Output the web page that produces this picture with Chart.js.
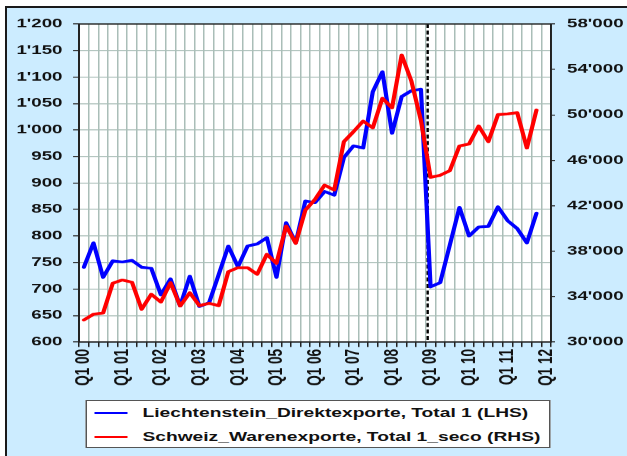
<!DOCTYPE html>
<html>
<head>
<meta charset="utf-8">
<script src="https://cdn.jsdelivr.net/npm/chart.js@4.4.1/dist/chart.umd.min.js"></script>
<style>
  html, body { margin:0; padding:0; width:627px; height:456px; overflow:hidden; background:#ffffff; }
  #frame { position:absolute; left:5px; top:6px; width:640px; height:470px; background:#CCECFF;
           border-top:2px solid #1a1a1a; border-left:2px solid #1a1a1a; }
  #stretch { position:absolute; left:0; top:0; width:418px; height:456px; transform:scaleX(1.5); transform-origin:0 0; }
  #chartBox { position:absolute; left:0; top:0; width:418px; height:456px; }
  #legend { position:absolute; left:56.7px; top:400px; width:308px; height:46px; background:#ffffff;
            border:1.3px solid #555; font:bold 12.8px "Liberation Sans", Arial, sans-serif; color:#111; }
  .row { position:absolute; left:0; width:100%; height:16px; line-height:16px; }
  .sample { position:absolute; left:5.3px; top:6.8px; width:22px; height:2.6px; }
  .label { position:absolute; left:37.3px; top:0; white-space:nowrap; }
</style>
</head>
<body>
<div id="frame"></div>
<div id="stretch">
  <div id="chartBox"><canvas id="c"></canvas></div>
  <div id="legend">
    <div class="row" style="top:4px"><span class="sample" style="background:#0000FF"></span><span class="label" id="lab0"></span></div>
    <div class="row" style="top:28px"><span class="sample" style="background:#FF0000"></span><span class="label" id="lab1"></span></div>
  </div>
</div>
<script>
// ---- data ----
const years = ['00','01','02','03','04','05','06','07','08','09','10','11','12'];
const quarters = ['Q1','Q2','Q3','Q4'];
const seriesNames = ['Liechtenstein_Direktexporte, Total 1 (LHS)', 'Schweiz_Warenexporte, Total 1_seco (RHS)'];

// Liechtenstein direct exports (left axis), Q1 00 .. Q4 11, Q1 12 empty
const liechtensteinExports = [
  741, 787, 722, 753, 751, 754, 741, 739,
  689, 719, 668, 724, 667, 674, 727, 781,
  742, 781, 785, 797, 722, 825, 787, 866,
  863, 884, 877, 948, 970, 966, 1072, 1110,
  994, 1063, 1074, 1077, 704, 712, 783, 854,
  800, 817, 818, 855, 829, 814, 787, 843,
  null
];
// Swiss goods exports (right axis)
const schweizExports = [
  31940, 32440, 32550, 35170, 35460, 35260, 32880, 34200,
  33520, 35220, 33170, 34340, 33200, 33400, 33200, 36190,
  36540, 36540, 35960, 37720, 36930, 40210, 38690, 41620,
  42550, 43820, 43380, 47640, 48520, 49450, 48860, 51460,
  50620, 55270, 53000, 49500, 44500, 44680, 45090, 47260,
  47430, 49020, 47640, 50020, 50080, 50190, 47080, 50430,
  null
];
const leftTicks = { min: 600, max: 1200, step: 50 };
const rightTicks = { min: 30000, max: 58000, step: 4000 };
const breakPosition = 35.7; // dashed marker, in category units (just before Q1 09)

// categories Q1 00 .. Q1 12
const categories = [];
years.forEach((y, yi) => {
  quarters.forEach((q, qi) => {
    if (yi === years.length - 1 && qi > 0) return;
    categories.push(q + ' ' + y);
  });
});

document.getElementById('lab0').textContent = seriesNames[0];
document.getElementById('lab1').textContent = seriesNames[1];

function fmtThousands(v) {
  const n = Math.round(v);
  if (n < 1000) return String(n);
  const th = Math.floor(n / 1000);
  const rest = String(n % 1000).padStart(3, '0');
  return th + "'" + rest;
}

const gridColor = '#AABEB8';
const axisColor = '#222222';
const tickFont = { family: '"Liberation Sans", Arial, sans-serif', size: 12.5, weight: 'bold' };
const xTickFont = { family: '"Liberation Sans", Arial, sans-serif', size: 13.5, weight: 'bold' };

const decor = {
  id: 'decor',
  beforeDraw(chart) {
    const { ctx, chartArea: a } = chart;
    ctx.save();
    ctx.fillStyle = '#ffffff';
    ctx.fillRect(a.left, a.top, a.right - a.left, a.bottom - a.top);
    ctx.restore();
  },
  beforeDatasetsDraw(chart) {
    const { ctx, chartArea: a } = chart;
    const xs = chart.scales.x;
    const i0 = Math.floor(breakPosition);
    const p0 = xs.getPixelForValue(i0);
    const p1 = xs.getPixelForValue(i0 + 1);
    const px = p0 + (breakPosition - i0) * (p1 - p0);
    ctx.save();
    ctx.beginPath();
    ctx.strokeStyle = '#ffffff';
    ctx.lineWidth = 1.6;
    ctx.moveTo(px, a.top); ctx.lineTo(px, a.bottom);
    ctx.stroke();
    ctx.beginPath();
    ctx.setLineDash([4, 2.5]);
    ctx.strokeStyle = '#000000';
    ctx.lineWidth = 1.6;
    ctx.moveTo(px, a.top); ctx.lineTo(px, a.bottom);
    ctx.stroke();
    ctx.restore();
  },
  afterDraw(chart) {
    const { ctx, chartArea: a } = chart;
    ctx.save();
    ctx.strokeStyle = axisColor;
    ctx.lineWidth = 1.2;
    ctx.strokeRect(a.left, a.top, a.right - a.left, a.bottom - a.top);
    ctx.restore();
  }
};

new Chart(document.getElementById('c'), {
  type: 'line',
  data: {
    labels: categories,
    datasets: [
      { label: seriesNames[0], data: liechtensteinExports, yAxisID: 'y', borderColor: '#0000FF',
        backgroundColor: '#0000FF', borderWidth: 2.8, order: 1, spanGaps: false },
      { label: seriesNames[1], data: schweizExports, yAxisID: 'y2', borderColor: '#FF0000',
        backgroundColor: '#FF0000', borderWidth: 2.8, order: 0, spanGaps: false }
    ]
  },
  options: {
    responsive: true,
    maintainAspectRatio: false,
    animation: false,
    devicePixelRatio: 1.5,
    layout: { padding: { left: 0, right: 0, top: 24, bottom: 54 } },
    plugins: { legend: { display: false }, tooltip: { enabled: false } },
    elements: {
      point: { radius: 0 },
      line: { tension: 0, borderJoinStyle: 'round', borderCapStyle: 'round' }
    },
    scales: {
      x: {
        type: 'category',
        offset: true,
        grid: { display: true, offset: true, color: gridColor, lineWidth: 1, tickLength: 5, tickColor: axisColor },
        border: { display: true, color: axisColor, width: 1.2 },
        ticks: {
          autoSkip: false, maxRotation: 90, minRotation: 90, padding: 2, color: '#111', font: xTickFont,
          callback: (v, i) => (i % 4 === 0 ? categories[i] : '')
        },
        afterFit: (s) => { s.height = 60; }
      },
      y: {
        position: 'left',
        min: leftTicks.min, max: leftTicks.max,
        grid: { color: gridColor, lineWidth: 1, tickLength: 4, tickColor: axisColor },
        border: { display: true, color: axisColor, width: 1.2 },
        ticks: { stepSize: leftTicks.step, padding: 7, color: '#111', font: tickFont, callback: (v) => fmtThousands(v) },
        afterFit: (s) => { s.width = 52.7; }
      },
      y2: {
        position: 'right',
        min: rightTicks.min, max: rightTicks.max,
        grid: { drawOnChartArea: false, tickLength: 2.7, tickColor: axisColor },
        border: { display: true, color: axisColor, width: 1.2 },
        ticks: { stepSize: rightTicks.step, padding: 8, color: '#111', font: tickFont, callback: (v) => fmtThousands(v) },
        afterFit: (s) => { s.width = 50.7; }
      }
    }
  },
  plugins: [decor]
});
</script>
</body>
</html>
